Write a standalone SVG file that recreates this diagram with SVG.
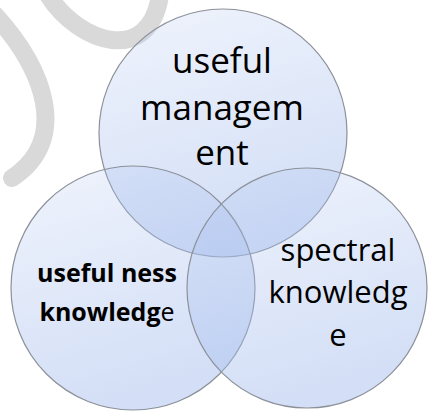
<svg xmlns="http://www.w3.org/2000/svg" width="432" height="412" viewBox="0 0 432 412">
  <defs>
    <linearGradient id="fillGrad" x1="0" y1="0" x2="0.3" y2="1">
      <stop offset="0" stop-color="#a8bfee" stop-opacity="0.18"/>
      <stop offset="1" stop-color="#a8bfee" stop-opacity="0.5"/>
    </linearGradient>
    <style>
      .circle { fill: url(#fillGrad); stroke: #8c9099; stroke-width: 1.2; }
      .lbl { font-family: "Open Sans", "Liberation Sans", sans-serif; fill: #000; text-anchor: middle; }
      .big { font-size: 35px; }
      .mid { font-size: 31px; }
      .bold { font-size: 25px; font-weight: bold; }
      .wm { fill: none; stroke: #d9d9d9; stroke-width: 18; stroke-linecap: round; }
    </style>
  </defs>
  <rect width="432" height="412" fill="#fff"/>
  <g id="watermark">
    <path class="wm" d="M -5 15 C 45 70 70 140 12 178"/>
    <path class="wm" d="M 48 -5 C 80 45 150 65 160 -5"/>
  </g>
  <g id="node-top">
    <circle class="circle" cx="223" cy="133" r="124"/>
    <text class="lbl big" x="222" y="73">useful</text>
    <text class="lbl big" x="222" y="120">managem</text>
    <text class="lbl big" x="222" y="165">ent</text>
  </g>
  <g id="node-left">
    <circle class="circle" cx="133" cy="288" r="122"/>
    <text class="lbl bold" x="107" y="282">useful ness</text>
    <text class="lbl bold" x="107" y="321">knowledg<tspan font-weight="normal">e</tspan></text>
  </g>
  <g id="node-right">
    <circle class="circle" cx="307" cy="288" r="120"/>
    <text class="lbl mid" x="338" y="261">spectral</text>
    <text class="lbl mid" x="338" y="303">knowledg</text>
    <text class="lbl mid" x="338" y="346">e</text>
  </g>
  <g id="connectors"></g>
</svg>
